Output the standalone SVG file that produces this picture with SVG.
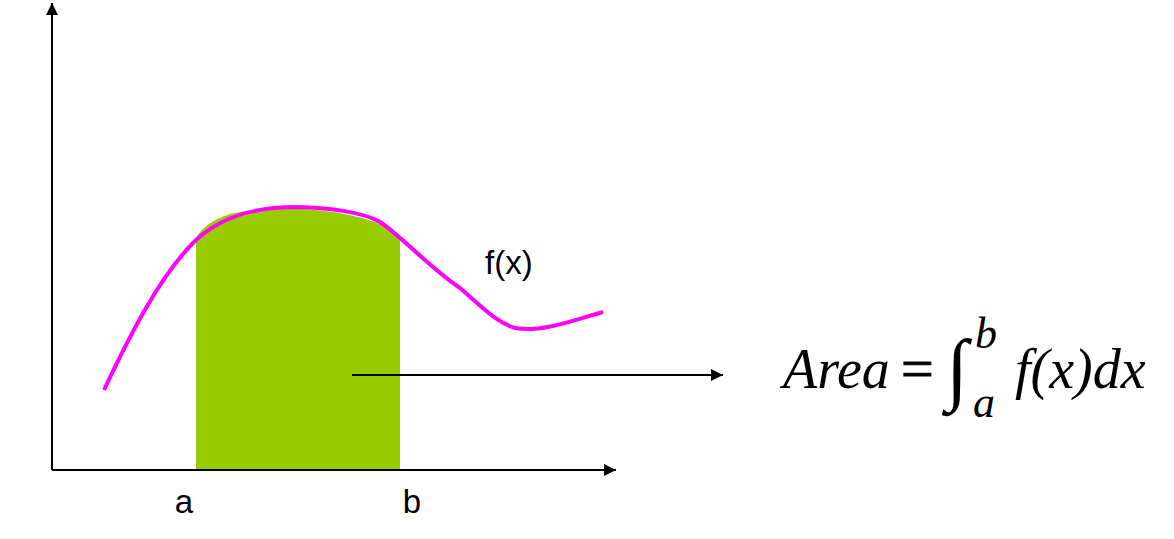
<svg xmlns="http://www.w3.org/2000/svg" width="1174" height="539" viewBox="0 0 1174 539">
<style>
.ax{stroke:#000;stroke-width:2;fill:none}
.lbl{font-family:"Liberation Sans",Arial,sans-serif;font-size:33px;fill:#000}
.m{font-family:"Liberation Serif","Times New Roman",serif;font-style:italic;fill:#000}
.r{font-family:"Liberation Serif","Times New Roman",serif;fill:#000}
</style>
<defs>
<marker id="ah" viewBox="0 0 10 10" refX="10" refY="5" markerWidth="12" markerHeight="12" markerUnits="userSpaceOnUse" orient="auto"><path d="M0,0 L10,5 L0,10 z" fill="#000"/></marker>
</defs>
<g id="area">
<path d="M196,470 L196,238 Q205,222 230,214 Q260,207 290,208 Q340,210 375,222 Q392,229 400,238 L400,470 Z" fill="#99cc00"/>
</g>
<g id="curve">
<path d="M104,390 C130,335 160,275 196,240 C220,218 250,208 290,207 C330,207 365,213 380,222 C400,235 430,268 460,288 C480,305 495,322 515,328 C540,333 575,320 603,312" fill="none" stroke="#ff00ff" stroke-width="4"/>
</g>
<g id="connectors">
<line class="ax" x1="52" y1="470" x2="52" y2="3" marker-end="url(#ah)"/>
<line class="ax" x1="52" y1="470" x2="616" y2="470" marker-end="url(#ah)"/>
<line class="ax" x1="352" y1="375" x2="723" y2="375" marker-end="url(#ah)"/>
</g>
<g id="labels">
<text class="lbl" x="184" y="513" text-anchor="middle">a</text>
<text class="lbl" x="412" y="513" text-anchor="middle">b</text>
<text class="lbl" x="485" y="274" font-size="37">f(x)</text>
</g>
<g id="formula">
<text class="m" x="783" y="388" font-size="56">Area</text>
<text class="r" x="901" y="388" font-size="58" stroke="#000" stroke-width="1">=</text>
<text class="r" x="946" y="395" font-size="80">∫</text>
<text class="m" x="975" y="348" font-size="44">b</text>
<text class="m" x="973" y="417" font-size="44">a</text>
<text class="m" x="1015" y="388" font-size="56">f(x)dx</text>
</g>
</svg>
